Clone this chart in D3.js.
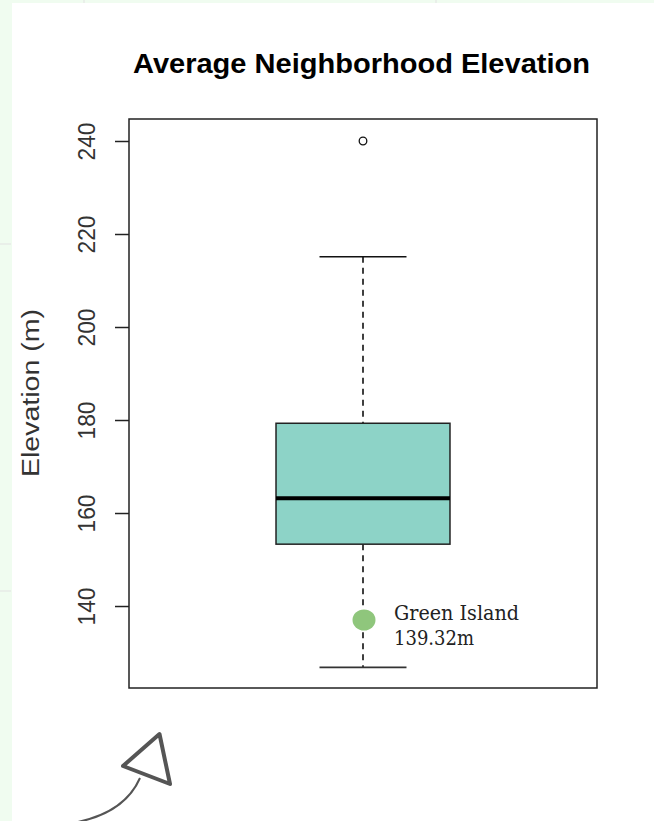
<!DOCTYPE html>
<html>
<head>
<meta charset="utf-8">
<script src="https://cdn.jsdelivr.net/npm/d3@7/dist/d3.min.js"></script>
<style>
  html, body { margin: 0; padding: 0; background: #ffffff; }
  svg { display: block; }
</style>
</head>
<body>
<svg id="chart" width="654" height="821"></svg>
<script>
// ---- data ----
const categories = ["Neighborhoods"];
const whiskerLow = [126.8];
const q1 = [153.3];
const median = [163.2];
const q3 = [179.3];
const whiskerHigh = [215.1];
const outliers = [240];
const yTicks = [140, 160, 180, 200, 220, 240];
const highlightName = ["Green Island"];
const highlightValue = [137.0];
const highlightLabel = ["139.32m"];
const titleText = "Average Neighborhood Elevation";
const yLabel = "Elevation (m)";

// ---- layout ----
const W = 654, H = 821;
const plot = { left: 129, right: 597, top: 119, bottom: 688 };
const svg = d3.select("#chart");

// page background (light green margin)
svg.append("rect").attr("x", 0).attr("y", 0).attr("width", W).attr("height", H).attr("fill", "#f0fcf0");
svg.append("rect").attr("x", 12).attr("y", 3).attr("width", W - 12).attr("height", H - 3).attr("fill", "#ffffff");
// faint marks in the margin
[[84, 0, 84, 3], [436, 0, 436, 3], [0, 244, 11, 244], [0, 591, 11, 591]].forEach(d => {
  svg.append("line").attr("x1", d[0]).attr("y1", d[1]).attr("x2", d[2]).attr("y2", d[3])
    .attr("stroke", "#e2e2e2").attr("stroke-width", 1);
});

const y = d3.scaleLinear().domain([122.37, 244.73]).range([plot.bottom, plot.top]);
const x = d3.scaleBand().domain(categories).range([plot.left, plot.right]).paddingInner(0.458).paddingOuter(0.458);

// title
svg.append("text")
  .attr("x", (133 + 590) / 2).attr("y", 73)
  .attr("text-anchor", "middle")
  .attr("font-family", "Liberation Sans, Arial, sans-serif")
  .attr("font-weight", "bold")
  .attr("font-size", 27.5)
  .attr("textLength", 457).attr("lengthAdjust", "spacingAndGlyphs")
  .attr("fill", "#000")
  .text(titleText);

// y axis label
svg.append("text")
  .attr("transform", `translate(39, ${393}) rotate(-90)`)
  .attr("text-anchor", "middle")
  .attr("font-family", "Liberation Sans, Arial, sans-serif")
  .attr("font-size", 23)
  .attr("textLength", 168).attr("lengthAdjust", "spacingAndGlyphs")
  .attr("fill", "#333")
  .text(yLabel);

// y axis
const axis = d3.axisLeft(y).tickValues(yTicks).tickSize(14).tickPadding(0).tickFormat(d3.format("d"));
const gAxis = svg.append("g").attr("transform", `translate(${plot.left},0)`).call(axis);
gAxis.select(".domain").remove();
gAxis.selectAll(".tick line").attr("stroke", "#222").attr("stroke-width", 1.5);
gAxis.selectAll(".tick text").remove();
gAxis.selectAll(".tick").append("text")
  .attr("transform", "translate(-34,0) rotate(-90)")
  .attr("text-anchor", "middle")
  .attr("font-family", "Liberation Sans, Arial, sans-serif")
  .attr("font-size", 24)
  .attr("textLength", 38).attr("lengthAdjust", "spacingAndGlyphs")
  .attr("fill", "#333")
  .text(d => d);

// plot frame
svg.append("rect")
  .attr("x", plot.left).attr("y", plot.top)
  .attr("width", plot.right - plot.left).attr("height", plot.bottom - plot.top)
  .attr("fill", "none").attr("stroke", "#222").attr("stroke-width", 1.5);

// boxplot
categories.forEach((c, i) => {
  const cx = x(c) + x.bandwidth() / 2;
  const bw = x.bandwidth();
  const capHalf = bw / 4;
  const g = svg.append("g");
  // whiskers (dashed)
  g.append("line").attr("x1", cx).attr("x2", cx).attr("y1", y(whiskerHigh[i])).attr("y2", y(q3[i]))
    .attr("stroke", "#000").attr("stroke-width", 1.5).attr("stroke-dasharray", "6,5");
  g.append("line").attr("x1", cx).attr("x2", cx).attr("y1", y(q1[i])).attr("y2", y(whiskerLow[i]))
    .attr("stroke", "#000").attr("stroke-width", 1.5).attr("stroke-dasharray", "6,5");
  // caps
  g.append("line").attr("x1", cx - capHalf).attr("x2", cx + capHalf).attr("y1", y(whiskerHigh[i])).attr("y2", y(whiskerHigh[i]))
    .attr("stroke", "#111").attr("stroke-width", 1.6);
  g.append("line").attr("x1", cx - capHalf).attr("x2", cx + capHalf).attr("y1", y(whiskerLow[i])).attr("y2", y(whiskerLow[i]))
    .attr("stroke", "#333").attr("stroke-width", 1.6);
  // box
  g.append("rect").attr("x", x(c)).attr("width", bw)
    .attr("y", y(q3[i])).attr("height", y(q1[i]) - y(q3[i]))
    .attr("fill", "#8dd3c7").attr("stroke", "#222").attr("stroke-width", 1.5);
  // median
  g.append("line").attr("x1", x(c)).attr("x2", x(c) + bw).attr("y1", y(median[i])).attr("y2", y(median[i]))
    .attr("stroke", "#000").attr("stroke-width", 4);
  // outliers
  g.selectAll("circle.out").data(outliers).enter().append("circle")
    .attr("class", "out").attr("cx", cx).attr("cy", d => y(d)).attr("r", 3.8)
    .attr("fill", "none").attr("stroke", "#111").attr("stroke-width", 1.3);
  // highlighted neighborhood
  const hy = y(highlightValue[i]);
  g.append("ellipse").attr("cx", cx + 1).attr("cy", hy).attr("rx", 11.5).attr("ry", 10.5).attr("fill", "#8fc67c");
  const t = g.append("text")
    .attr("font-family", "DejaVu Serif, serif")
    .attr("font-size", 20.5)
    .attr("fill", "#222");
  t.append("tspan").attr("x", 394).attr("y", hy).attr("textLength", 125).attr("lengthAdjust", "spacingAndGlyphs").text(highlightName[i]);
  t.append("tspan").attr("x", 394).attr("y", hy + 25).attr("textLength", 80).attr("lengthAdjust", "spacingAndGlyphs").text(highlightLabel[i]);
});

// decorative arrow
svg.append("path")
  .attr("d", "M140,778 Q125,812 78,822")
  .attr("fill", "none").attr("stroke", "#555").attr("stroke-width", 2);
svg.append("path")
  .attr("d", "M159.5,734 L170,784 L123,766 Z")
  .attr("fill", "none").attr("stroke", "#555").attr("stroke-width", 4).attr("stroke-linejoin", "round");
</script>
</body>
</html>
